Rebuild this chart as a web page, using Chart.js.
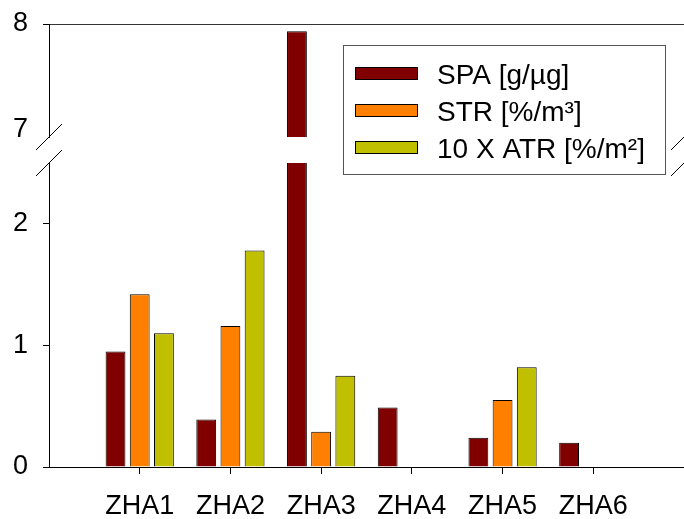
<!DOCTYPE html>
<html>
<head>
<meta charset="utf-8">
<script src="https://cdn.jsdelivr.net/npm/chart.js@4/dist/chart.umd.min.js"></script>
<style>
  html, body { margin: 0; padding: 0; background: #fff; }
  #wrap { width: 684px; height: 519px; }
</style>
</head>
<body>
<div id="wrap"><canvas id="myChart"></canvas></div>
<script>
const categories = ['ZHA1', 'ZHA2', 'ZHA3', 'ZHA4', 'ZHA5', 'ZHA6'];
const spaValues = [0.95, 0.39, 7.93, 0.49, 0.24, 0.2];
const strValues = [1.42, 1.16, 0.29, null, 0.55, null];
const atrValues = [1.1, 1.78, 0.75, null, 0.82, null];
const seriesLabels = ['SPA [g/µg]', 'STR [%/m³]', '10 X ATR [%/m²]'];
const seriesColors = ['#800000', '#ff8000', '#c0c000'];
const lowerTicks = [0, 1, 2];
const upperTicks = [7, 8];
const lowerRange = [0, 2.5];
const upperRange = [6.925, 8];

const font = { family: "'Liberation Sans', Arial, sans-serif", size: 27 };

// empty slot at each end so the groups sit like the original
const pad = (arr) => [null, ...arr, null];
const xLabels = pad(categories).map(c => c || '');

const seriesValues = [spaValues, strValues, atrValues];
const stacks = ['spa', 'str', 'atr'];

const makeDataset = (i, axis) => ({
  label: seriesLabels[i],
  data: pad(seriesValues[i]),
  backgroundColor: seriesColors[i],
  borderColor: '#000',
  borderWidth: 1,
  stack: stacks[i],
  yAxisID: axis,
  clip: 0,
  categoryPercentage: 0.8,
  barPercentage: 0.82
});

const datasets = [
  ...[0, 1, 2].map(i => makeDataset(i, 'y')),
  ...[0, 1, 2].map(i => makeDataset(i, 'yTop'))
];

// fixed axis sizes, no extra room for label overflow
const fitY = (s) => { s.width = 49; s.paddingTop = 0; s.paddingBottom = 0; };
const fitX = (s) => { s.height = 52; s.paddingLeft = 0; s.paddingRight = 0; };

// the // marks where the value axis is broken
const breakMarks = {
  id: 'breakMarks',
  afterDraw(chart) {
    const ctx = chart.ctx;
    const { left, right } = chart.chartArea;
    const ys = [chart.scales.yTop.bottom, chart.scales.y.top];
    ctx.save();
    ctx.strokeStyle = '#000';
    ctx.lineWidth = 1;
    [left, right].forEach(x => {
      ys.forEach(y => {
        ctx.beginPath();
        ctx.moveTo(x - 13, y + 13);
        ctx.lineTo(x + 13, y - 13);
        ctx.stroke();
      });
    });
    ctx.restore();
  }
};

const boxLegend = {
  id: 'boxLegend',
  afterDraw(chart) {
    const ctx = chart.ctx;
    ctx.save();
    ctx.strokeStyle = '#555';
    ctx.lineWidth = 1;
    ctx.strokeRect(343.5, 45.5, 322, 129);
    ctx.font = "28px 'Liberation Sans', Arial, sans-serif";
    ctx.fillStyle = '#000';
    ctx.textBaseline = 'alphabetic';
    seriesLabels.forEach((label, i) => {
      const cy = 73 + i * 37;
      ctx.fillStyle = seriesColors[i];
      ctx.fillRect(355, cy - 6, 63, 13);
      ctx.strokeStyle = '#000';
      ctx.strokeRect(355.5, cy - 5.5, 62, 12);
      ctx.fillStyle = '#000';
      ctx.fillText(label, 437, cy + 11);
    });
    ctx.restore();
  }
};

new Chart(document.getElementById('myChart'), {
  type: 'bar',
  data: { labels: xLabels, datasets: datasets },
  options: {
    responsive: true,
    maintainAspectRatio: false,
    animation: false,
    layout: { padding: { top: 24, right: 0, left: 0, bottom: 0 } },
    plugins: {
      legend: { display: false },
      tooltip: { enabled: false }
    },
    scales: {
      x: {
        offset: false,
        afterFit: fitX,
        border: { color: '#000', width: 1 },
        grid: {
          offset: false,
          drawOnChartArea: false,
          tickLength: 7,
          tickColor: ctx => (ctx.index === 0 || ctx.index === xLabels.length - 1) ? 'transparent' : '#000'
        },
        ticks: { color: '#000', font: font, padding: 16, maxRotation: 0, autoSkip: false }
      },
      y: {
        type: 'linear',
        position: 'left',
        stack: 'ybreak',
        stackWeight: 304,
        min: lowerRange[0],
        max: lowerRange[1],
        afterBuildTicks: s => { s.ticks = lowerTicks.map(v => ({ value: v })); },
        afterFit: fitY,
        border: { color: '#000', width: 1 },
        grid: { drawOnChartArea: false, tickLength: 6, tickColor: '#000' },
        ticks: { color: '#000', font: font, padding: 15 }
      },
      yGap: {
        type: 'linear',
        position: 'left',
        stack: 'ybreak',
        stackWeight: 26,
        afterFit: fitY,
        border: { display: false },
        grid: { display: false },
        ticks: { display: false }
      },
      yTop: {
        type: 'linear',
        position: 'left',
        stack: 'ybreak',
        stackWeight: 113,
        min: upperRange[0],
        max: upperRange[1],
        afterBuildTicks: s => { s.ticks = upperTicks.map(v => ({ value: v })); },
        afterFit: fitY,
        border: { color: '#000', width: 1 },
        grid: {
          drawOnChartArea: true,
          tickLength: 6,
          color: ctx => (ctx.tick && ctx.tick.value === upperRange[1]) ? '#333' : 'transparent',
          tickColor: ctx => (ctx.tick && ctx.tick.value === upperTicks[0]) ? 'transparent' : '#000'
        },
        ticks: { color: '#000', font: font, padding: 15 }
      }
    }
  },
  plugins: [breakMarks, boxLegend]
});
</script>
</body>
</html>
